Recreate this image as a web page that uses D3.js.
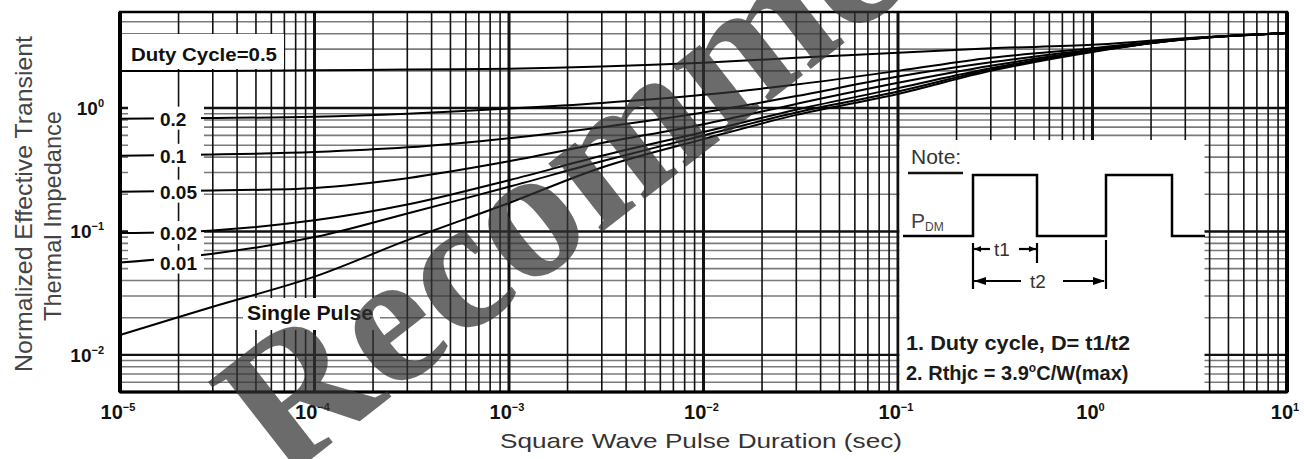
<!DOCTYPE html>
<html>
<head>
<meta charset="utf-8">
<script src="https://cdn.jsdelivr.net/npm/d3@7"></script>
<style>
  body { margin: 0; background: #fff; }
  text { font-family: "Liberation Sans", Arial, sans-serif; }
</style>
</head>
<body>
<div id="chart"></div>
<script>
var durations = [1e-5, 3e-5, 1e-4, 3e-4, 1e-3, 3e-3, 1e-2, 3e-2, 1e-1, 3e-1, 1, 3, 10]

var dutyCycles = ['0.5', '0.2', '0.1', '0.05', '0.02', '0.01', 'Single Pulse']
var d05 = [2.0, 2.0, 2.02, 2.05, 2.08, 2.17, 2.33, 2.55, 2.8, 3.05, 3.25, 3.68, 4.05]
var d02 = [0.82, 0.83, 0.85, 0.9, 0.99, 1.1, 1.28, 1.55, 2.0, 2.55, 3.05, 3.65, 4.05]
var d01 = [0.41, 0.42, 0.44, 0.48, 0.57, 0.7, 0.92, 1.25, 1.8, 2.35, 2.97, 3.63, 4.05]
var d005 = [0.21, 0.215, 0.225, 0.27, 0.37, 0.52, 0.74, 1.08, 1.6, 2.2, 2.92, 3.62, 4.05]
var d002 = [0.097, 0.102, 0.123, 0.165, 0.26, 0.41, 0.64, 0.97, 1.45, 2.1, 2.88, 3.6, 4.05]
var d001 = [0.056, 0.066, 0.09, 0.14, 0.23, 0.37, 0.6, 0.92, 1.36, 2.05, 2.87, 3.6, 4.05]
var single = [0.0145, 0.0245, 0.043, 0.085, 0.17, 0.33, 0.56, 0.88, 1.3, 2.0, 2.85, 3.6, 4.05]
var seriesValues = [d05, d02, d01, d005, d002, d001, single]

var xTickExp = ['-5', '-4', '-3', '-2', '-1', '0', '1']
var yTickExp = ['0', '-1', '-2']

var width = 1304
var height = 459
var plotLeft = 120, plotRight = 1287, plotTop = 12, plotBottom = 392

var svg = d3.select('#chart').append('svg')
  .attr('width', width)
  .attr('height', height)

svg.append('rect').attr('width', width).attr('height', height).attr('fill', '#fff')

var x = d3.scaleLog().domain([1e-5, 10]).range([plotLeft, plotRight])
var y = d3.scaleLog().domain([0.005, 6]).range([plotBottom, plotTop])

// grid values
var xGrid = []
for (var e = -5; e < 1; e++) {
  for (var k = 1; k < 10; k++) xGrid.push({ v: k * Math.pow(10, e), major: k === 1 })
}
xGrid.push({ v: 10, major: true })
var yGrid = []
for (var e2 = -3; e2 < 1; e2++) {
  for (var k2 = 1; k2 < 10; k2++) {
    var v = k2 * Math.pow(10, e2)
    if (v >= 0.005 && v < 6.01) yGrid.push({ v: v, major: k2 === 1 })
  }
}

var grid = svg.append('g')
grid.selectAll('.hgrid')
  .data(yGrid)
  .enter().append('line')
  .attr('x1', plotLeft).attr('x2', plotRight)
  .attr('y1', d => y(d.v)).attr('y2', d => y(d.v))
  .attr('stroke', d => d.major ? '#111' : '#7a7a7a')
  .attr('stroke-width', d => d.major ? 2.4 : 1.6)

grid.selectAll('.vgrid')
  .data(xGrid)
  .enter().append('line')
  .attr('x1', d => x(d.v)).attr('x2', d => x(d.v))
  .attr('y1', plotTop).attr('y2', plotBottom)
  .attr('stroke', '#111')
  .attr('stroke-width', d => d.major ? 3 : 1.6)

// white areas where the original sheet has no grid
var blank = svg.append('g').attr('fill', '#fff')
blank.append('rect').attr('x', 128).attr('y', 100).attr('width', 76).attr('height', 172)
blank.append('rect').attr('x', 122).attr('y', 34).attr('width', 162).attr('height', 35)
blank.append('rect').attr('x', 243).attr('y', 298).attr('width', 137).attr('height', 32)
blank.append('rect').attr('x', x(0.1) + 1.5).attr('y', 140).attr('width', 305).attr('height', plotBottom - 141)

// the 2e-5 grid line runs through the label column
svg.append('line')
  .attr('x1', x(2e-5)).attr('x2', x(2e-5))
  .attr('y1', 100).attr('y2', 272)
  .attr('stroke', '#111').attr('stroke-width', 1.6)

// frame
svg.append('rect')
  .attr('x', plotLeft).attr('y', plotTop)
  .attr('width', plotRight - plotLeft).attr('height', plotBottom - plotTop)
  .attr('fill', 'none').attr('stroke', '#000').attr('stroke-width', 2.5)
svg.append('line').attr('x1', plotLeft).attr('x2', plotLeft).attr('y1', plotTop).attr('y2', plotBottom)
  .attr('stroke', '#000').attr('stroke-width', 4)
svg.append('line').attr('x1', plotRight).attr('x2', plotRight).attr('y1', plotTop).attr('y2', plotBottom)
  .attr('stroke', '#000').attr('stroke-width', 4)
svg.append('line').attr('x1', plotLeft).attr('x2', plotRight).attr('y1', plotBottom).attr('y2', plotBottom)
  .attr('stroke', '#000').attr('stroke-width', 3)

// curves
var line = d3.line()
  .curve(d3.curveCatmullRom.alpha(0.5))
  .x(d => x(d[0]))
  .y(d => y(d[1]))

svg.append('g').selectAll('.curve')
  .data(seriesValues)
  .enter().append('path')
  .attr('d', s => line(s.map((v, i) => [durations[i], v])))
  .attr('fill', 'none')
  .attr('stroke', '#000')
  .attr('stroke-width', 2)

// duty cycle labels on the left
var labels = svg.append('g')
  .style('font-weight', 'bold')
  .style('font-size', '19px')
  .attr('fill', '#111')
dutyCycles.slice(1, 6).forEach(function (lab, i) {
  var cy = y(seriesValues[i + 1][0])
  labels.append('rect').attr('x', 154).attr('y', cy - 12).attr('width', 47).attr('height', 23).attr('fill', '#fff')
  labels.append('text').attr('x', 160).attr('y', cy + 7).text(lab)
})
labels.append('text').attr('x', 131).attr('y', 61).style('font-size', '19px')
  .attr('textLength', 146).attr('lengthAdjust', 'spacingAndGlyphs')
  .text('Duty Cycle=' + dutyCycles[0])
labels.append('text').attr('x', 247).attr('y', 320).style('font-size', '20px')
  .attr('textLength', 126).attr('lengthAdjust', 'spacingAndGlyphs')
  .text(dutyCycles[6])

// note box
var note = svg.append('g')
note.append('text').attr('x', 911).attr('y', 164).attr('fill', '#333')
  .style('font-size', '21px').text('Note:')
note.append('line').attr('x1', 908).attr('x2', 963).attr('y1', 173).attr('y2', 173)
  .attr('stroke', '#111').attr('stroke-width', 2.5)
note.append('path')
  .attr('d', 'M903,236H973V175H1037V236H1106V175H1172V236H1205')
  .attr('fill', 'none').attr('stroke', '#000').attr('stroke-width', 2.5)
var pdm = note.append('text').attr('x', 911).attr('y', 228).attr('fill', '#444').style('font-size', '21px')
pdm.append('tspan').text('P')
pdm.append('tspan').attr('dy', 3).style('font-size', '12px').text('DM')

var dim = note.append('g').attr('stroke', '#000').attr('stroke-width', 2.2)
dim.append('line').attr('x1', 973).attr('x2', 973).attr('y1', 243).attr('y2', 289)
dim.append('line').attr('x1', 1037).attr('x2', 1037).attr('y1', 243).attr('y2', 263)
dim.append('line').attr('x1', 1106).attr('x2', 1106).attr('y1', 240).attr('y2', 289)
dim.append('line').attr('x1', 974).attr('x2', 990).attr('y1', 249).attr('y2', 249)
dim.append('line').attr('x1', 1019).attr('x2', 1036).attr('y1', 249).attr('y2', 249)
dim.append('line').attr('x1', 974).attr('x2', 1021).attr('y1', 281).attr('y2', 281)
dim.append('line').attr('x1', 1063).attr('x2', 1104).attr('y1', 281).attr('y2', 281)
var heads = note.append('g').attr('fill', '#000')
heads.append('path').attr('d', 'M974,281L986,277V285Z')
heads.append('path').attr('d', 'M1105,281L1093,277V285Z')
heads.append('path').attr('d', 'M974,249L981,246V252Z')
heads.append('path').attr('d', 'M1036,249L1029,246V252Z')
note.append('text').attr('x', 994).attr('y', 256).attr('fill', '#333').style('font-size', '19px').text('t1')
note.append('text').attr('x', 1030).attr('y', 288).attr('fill', '#333').style('font-size', '19px').text('t2')

note.append('text').attr('x', 906).attr('y', 350).attr('fill', '#1a1a1a')
  .style('font-size', '20px').style('font-weight', 'bold')
  .attr('textLength', 224).attr('lengthAdjust', 'spacingAndGlyphs')
  .text('1. Duty cycle, D= t1/t2')
var n2 = note.append('text').attr('x', 906).attr('y', 380).attr('fill', '#1a1a1a')
  .style('font-size', '20px').style('font-weight', 'bold')
n2.append('tspan').text('2. Rthjc = 3.9')
n2.append('tspan').attr('dy', -8).style('font-size', '12px').text('o')
n2.append('tspan').attr('dy', 8).text('C/W(max)')

// tick labels
var xt = svg.append('g').style('font-weight', 'bold').attr('fill', '#111')
xTickExp.forEach(function (ex) {
  var t = xt.append('text')
    .attr('x', x(Math.pow(10, +ex)) - 2)
    .attr('y', 419)
    .attr('text-anchor', 'middle')
    .style('font-size', '20px')
  t.append('tspan').text('10')
  t.append('tspan').attr('dy', -8).style('font-size', '11px').text(ex === '0' || ex === '1' ? ex : '\u2212' + ex.slice(1))
})
var yt = svg.append('g').style('font-weight', 'bold').attr('fill', '#111')
yTickExp.forEach(function (ex) {
  var t = yt.append('text')
    .attr('x', 104)
    .attr('y', y(Math.pow(10, +ex)) + 7)
    .attr('text-anchor', 'end')
    .style('font-size', '19px')
  t.append('tspan').text('10')
  t.append('tspan').attr('dy', -8).style('font-size', '11px').text(ex === '0' ? ex : '\u2212' + ex.slice(1))
})

// axis titles
svg.append('text')
  .attr('x', 701).attr('y', 448)
  .attr('text-anchor', 'middle')
  .attr('fill', '#333')
  .style('font-size', '21px')
  .attr('textLength', 402).attr('lengthAdjust', 'spacingAndGlyphs')
  .text('Square Wave Pulse Duration (sec)')
svg.append('text')
  .attr('transform', 'translate(32,204) rotate(-90)')
  .attr('text-anchor', 'middle')
  .attr('fill', '#444')
  .style('font-size', '24px')
  .attr('textLength', 336).attr('lengthAdjust', 'spacingAndGlyphs')
  .text('Normalized Effective Transient')
svg.append('text')
  .attr('transform', 'translate(61,216) rotate(-90)')
  .attr('text-anchor', 'middle')
  .attr('fill', '#444')
  .style('font-size', '24px')
  .attr('textLength', 210).attr('lengthAdjust', 'spacingAndGlyphs')
  .text('Thermal Impedance')

// watermark
svg.append('text')
  .attr('transform', 'translate(282,482) rotate(-38)')
  .attr('fill', '#333')
  .attr('opacity', 0.72)
  .style('font-family', '"Liberation Serif", "Times New Roman", serif')
  .style('font-weight', 'bold')
  .style('font-size', '190px')
  .text('Recommended')
</script>
</body>
</html>
